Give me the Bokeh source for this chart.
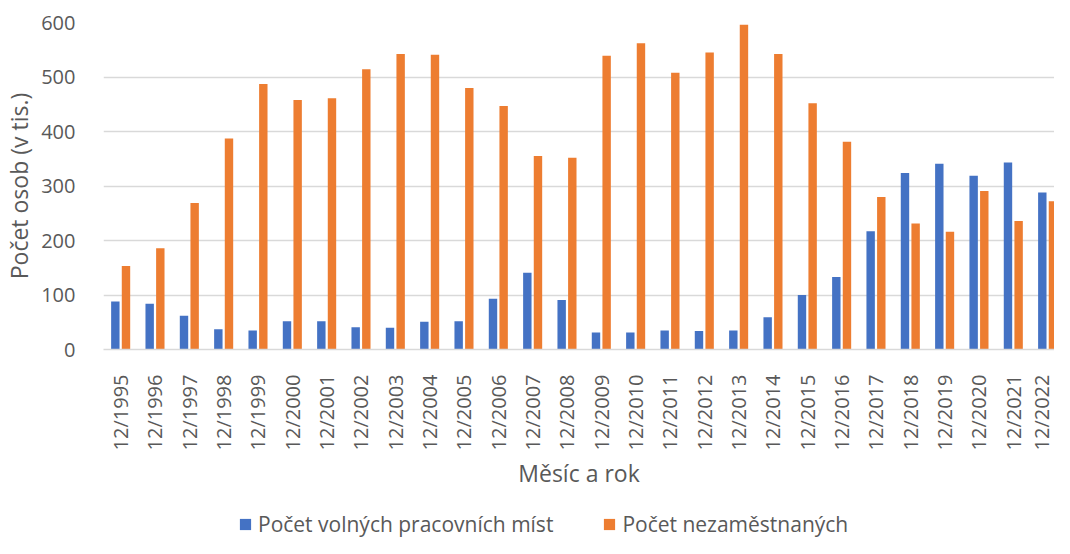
import numpy as np
from bokeh.plotting import figure
from bokeh.layouts import column
from bokeh.models import (ColumnDataSource, Range1d, FixedTicker, Legend, LegendItem)
from bokeh.transform import dodge
from bokeh.embed import file_html
from bokeh.resources import INLINE

categories = ["12/%d" % y for y in range(1995, 2023)]
volna_mista = [88, 84, 62, 37, 35, 52, 52, 41, 40, 51, 52, 93, 141, 91, 31, 31, 35,
               34, 35, 59, 100, 133, 217, 324, 341, 319, 343, 288]
nezamestnani = [153, 186, 269, 387, 487, 458, 461, 514, 542, 541, 480, 447, 355, 352,
                539, 562, 508, 545, 596, 542, 452, 381, 280, 231, 216, 291, 236, 272]
series_names = ["Počet volných pracovních míst", "Počet nezaměstnaných"]

FONT = "Open Sans"
TXT = "#595959"
GRID = "#D9D9D9"
BLUE = "#4472C4"
ORANGE = "#ED7D31"

src = ColumnDataSource(dict(x=list(range(len(categories))), cat=categories,
                            v=volna_mista, u=nezamestnani))

p = figure(width=1054, height=500, output_backend="svg", toolbar_location=None,
           x_range=Range1d(-0.5, 27.2), y_range=Range1d(0, 600),
           min_border_left=95, min_border_right=0, min_border_top=22, min_border_bottom=151)
p.outline_line_color = None

p.vbar(x=dodge("x", -0.155, range=p.x_range), top="v", width=0.245, source=src,
       fill_color=BLUE, line_color=None)
p.vbar(x=dodge("x", 0.155, range=p.x_range), top="u", width=0.245, source=src,
       fill_color=ORANGE, line_color=None)

p.xaxis.ticker = FixedTicker(ticks=list(range(len(categories))))
p.xaxis.major_label_overrides = {i: c for i, c in enumerate(categories)}
p.xaxis.major_label_orientation = np.pi / 2
p.xaxis.major_tick_line_color = None
p.xaxis.minor_tick_line_color = None
p.xaxis.axis_line_color = GRID
p.xaxis.axis_line_width = 1.3
p.xaxis.major_label_standoff = 19
p.xaxis.axis_label = "Měsíc a rok"
p.xaxis.axis_label_standoff = 4

p.yaxis.ticker = FixedTicker(ticks=[0, 100, 200, 300, 400, 500, 600])
p.yaxis.major_tick_line_color = None
p.yaxis.minor_tick_line_color = None
p.yaxis.axis_line_color = None
p.yaxis.major_label_standoff = 22
p.yaxis.axis_label = "Počet osob (v tis.)"
p.yaxis.axis_label_standoff = 3

for ax in (p.xaxis[0], p.yaxis[0]):
    ax.major_label_text_font = FONT
    ax.major_label_text_font_size = "20px"
    ax.major_label_text_color = TXT
    ax.axis_label_text_font = FONT
    ax.axis_label_text_font_size = "23px"
    ax.axis_label_text_font_style = "normal"
    ax.axis_label_text_color = TXT

p.xgrid.grid_line_color = None
p.ygrid.grid_line_color = GRID
p.ygrid.grid_line_width = 1.3

# legend strip (proxy bars fall outside its ranges, so only the legend shows)
q = figure(width=1054, height=38, output_backend="svg", toolbar_location=None,
           x_range=Range1d(-3, -2), y_range=Range1d(-2, -1),
           x_axis_type=None, y_axis_type=None,
           min_border_left=0, min_border_right=0, min_border_top=0, min_border_bottom=0)
q.outline_line_color = None
q.xgrid.visible = False
q.ygrid.visible = False
l1 = q.vbar(x="x", top="v", width=0.245, source=src, fill_color=BLUE, line_color=None)
l2 = q.vbar(x="x", top="u", width=0.245, source=src, fill_color=ORANGE, line_color=None)
legend = Legend(items=[LegendItem(label=series_names[0], renderers=[l1]),
                       LegendItem(label=series_names[1], renderers=[l2])],
                orientation="horizontal", location=(135, 0),
                glyph_width=14, glyph_height=14, label_standoff=6, spacing=49,
                padding=0, margin=0, border_line_alpha=0, background_fill_alpha=0,
                label_text_font=FONT, label_text_font_size="21px", label_text_color=TXT)
q.add_layout(legend, "center")

layout = column(p, q, spacing=0)
open("out.html", "w").write(file_html(layout, INLINE))
